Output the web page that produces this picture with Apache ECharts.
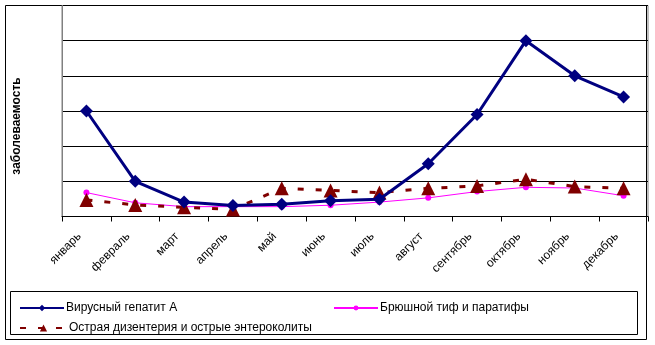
<!DOCTYPE html>
<html>
<head>
<meta charset="utf-8">
<script src="https://cdn.jsdelivr.net/npm/echarts@6/dist/echarts.min.js"></script>
<style>html,body{margin:0;padding:0;background:#fff}#c{width:655px;height:345px}</style>
</head>
<body>
<div id="c"></div>
<script>
var months = ['январь','февраль','март','апрель','май','июнь','июль','август','сентябрь','октябрь','ноябрь','декабрь'];
var hepatitis = [3.0, 1.0, 0.41, 0.31, 0.35, 0.45, 0.49, 1.5, 2.9, 5.0, 4.0, 3.4];
var typhoid = [0.68, 0.39, 0.28, 0.28, 0.28, 0.32, 0.41, 0.53, 0.71, 0.83, 0.81, 0.59];
var dysentery = [0.47, 0.33, 0.26, 0.2, 0.8, 0.74, 0.68, 0.8, 0.87, 1.06, 0.85, 0.8];
var names = ['Вирусный гепатит А','Брюшной тиф и паратифы','Острая дизентерия и острые энтероколиты'];
var yTitle = 'заболеваемость';

var chart = echarts.init(document.getElementById('c'), null, {renderer:'canvas'});
var font = 'Arial, "Liberation Sans", sans-serif';
var legendText = {fontSize:12, color:'#000', fontFamily:font, padding:[0,0,0,-3], height:12, lineHeight:12};
chart.setOption({
  animation:false,
  backgroundColor:'#fff',
  grid:{left:62, right:7, top:5.5, bottom:128.5, show:true, borderColor:'#808080', borderWidth:1},
  xAxis:{type:'category', data:months, boundaryGap:true,
    axisLine:{lineStyle:{color:'#000', width:1}},
    axisTick:{show:true, length:5, lineStyle:{color:'#000'}},
    axisLabel:{rotate:45, fontSize:12, color:'#000', fontFamily:font, margin:11, padding:[0,10,0,0]},
    splitLine:{show:false}},
  yAxis:{type:'value', min:0, max:6, interval:1,
    axisLine:{show:true, lineStyle:{color:'#808080'}},
    axisTick:{show:false}, axisLabel:{show:false},
    splitLine:{show:true, lineStyle:{color:'#000', width:1}}},
  legend:[
    {data:[names[0]], left:14, top:297, itemWidth:44, itemHeight:8, textStyle:legendText, selectedMode:false},
    {data:[names[1]], left:328, top:297, itemWidth:44, itemHeight:6, textStyle:legendText, selectedMode:false},
    {data:[names[2]], left:14, top:317, itemWidth:47, itemHeight:9, textStyle:legendText, selectedMode:false}
  ],
  graphic:[
    {type:'rect', shape:{x:5.5, y:5.5, width:641, height:334}, style:{fill:null, stroke:'#000', lineWidth:1}, silent:true, z:-1},
    {type:'rect', shape:{x:10.5, y:291.5, width:627, height:43}, style:{fill:null, stroke:'#000', lineWidth:1}, silent:true},
    {type:'text', x:17, y:126, rotation:Math.PI/2, style:{text:yTitle, font:'bold 12px '+font, fill:'#000', textAlign:'center', textVerticalAlign:'middle'}}
  ],
  series:[
    {name:names[0], type:'line', data:hepatitis, symbol:'diamond', symbolSize:13, z:5,
      lineStyle:{color:'#000080', width:3}, itemStyle:{color:'#000080'}},
    {name:names[1], type:'line', data:typhoid, symbol:'circle', symbolSize:6, z:3,
      lineStyle:{color:'#FF00FF', width:1}, itemStyle:{color:'#FF00FF'}},
    {name:names[2], type:'line', data:dysentery, symbol:'triangle', symbolSize:14, z:4,
      lineStyle:{color:'#800000', width:3, type:[6,12]}, itemStyle:{color:'#800000'}}
  ]
});
</script>
</body>
</html>
